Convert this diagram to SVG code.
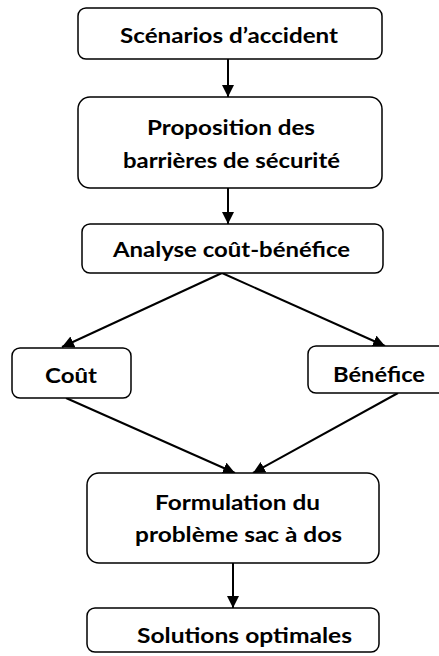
<svg xmlns="http://www.w3.org/2000/svg" width="439" height="656" viewBox="0 0 439 656">
  <style>
    .box { fill: #ffffff; stroke: #000000; stroke-width: 1.5; }
    .lbl { font-family: Lato, "Liberation Sans", Arial, sans-serif; font-weight: bold; font-size: 21px; fill: #000000; }
    .edge { stroke: #000000; stroke-width: 2; fill: none; marker-end: url(#arrow); }
  </style>
  <defs>
    <marker id="arrow" viewBox="0 0 12 12" refX="12" refY="6" markerWidth="12" markerHeight="12" markerUnits="userSpaceOnUse" orient="auto">
      <path d="M0,0 L12,6 L0,12 Z" fill="#000000"/>
    </marker>
  </defs>

  <g id="connectors">
    <line class="edge" x1="228" y1="59" x2="228" y2="97"/>
    <line class="edge" x1="228" y1="188" x2="228" y2="224"/>
    <line class="edge" x1="222" y1="273" x2="62" y2="347"/>
    <line class="edge" x1="222" y1="273" x2="385" y2="346"/>
    <line class="edge" x1="66" y1="398" x2="235" y2="473"/>
    <line class="edge" x1="398" y1="393" x2="253" y2="473"/>
    <line class="edge" x1="233" y1="563" x2="233" y2="608"/>
  </g>

  <g id="scenarios">
    <rect class="box" x="78" y="8" width="304" height="51" rx="8"/>
    <text class="lbl" x="120" y="43" textLength="218" lengthAdjust="spacingAndGlyphs">Scénarios d’accident</text>
  </g>

  <g id="proposition">
    <rect class="box" x="78" y="97" width="304" height="91" rx="12"/>
    <text class="lbl" x="147" y="135" textLength="168" lengthAdjust="spacingAndGlyphs">Proposition des</text>
    <text class="lbl" x="123" y="168" textLength="217" lengthAdjust="spacingAndGlyphs">barrières de sécurité</text>
  </g>

  <g id="analyse">
    <rect class="box" x="82" y="224" width="301" height="49" rx="8"/>
    <text class="lbl" x="113" y="257" textLength="237" lengthAdjust="spacingAndGlyphs">Analyse coût-bénéfice</text>
  </g>

  <g id="cout">
    <rect class="box" x="12" y="348" width="119" height="50" rx="8"/>
    <text class="lbl" x="45" y="383" textLength="52" lengthAdjust="spacingAndGlyphs">Coût</text>
  </g>

  <g id="benefice">
    <rect class="box" x="308" y="346" width="140" height="47" rx="8"/>
    <text class="lbl" x="333" y="382" textLength="92" lengthAdjust="spacingAndGlyphs">Bénéfice</text>
  </g>

  <g id="formulation">
    <rect class="box" x="87" y="473" width="292" height="90" rx="12"/>
    <text class="lbl" x="155" y="510" textLength="165" lengthAdjust="spacingAndGlyphs">Formulation du</text>
    <text class="lbl" x="135" y="542" textLength="207" lengthAdjust="spacingAndGlyphs">problème sac à dos</text>
  </g>

  <g id="solutions">
    <rect class="box" x="87" y="608" width="292" height="44" rx="8"/>
    <text class="lbl" x="137" y="643" textLength="215" lengthAdjust="spacingAndGlyphs">Solutions optimales</text>
  </g>
</svg>
